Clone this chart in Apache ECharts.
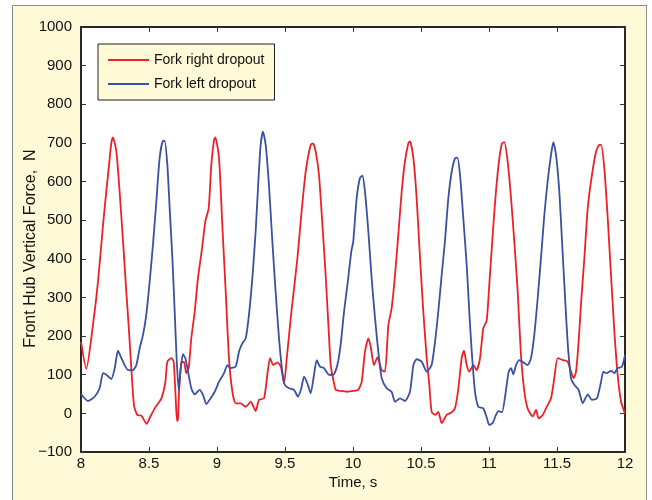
<!DOCTYPE html>
<html>
<head>
<meta charset="utf-8">
<script src="https://cdn.jsdelivr.net/npm/echarts@6/dist/echarts.min.js"></script>
<style>
  html, body { margin: 0; padding: 0; background: #fff; overflow: hidden; }
  #frame { position: absolute; left: 12px; top: 5px; width: 633px; height: 510px;
           background: #fef9d7; border: 1px solid #8c8c8c; }
  #chart { position: absolute; left: 0; top: 0; width: 652px; height: 500px; }
</style>
</head>
<body>
<div id="frame"></div>
<div id="chart"></div>
<script>
// 右侧叉端（红线）
const rightTime = [
  8.000, 8.039, 8.088, 8.125, 8.162, 8.186, 8.211, 8.223, 8.235, 8.260,
  8.284, 8.309, 8.333, 8.350, 8.370, 8.390, 8.414, 8.444, 8.483, 8.505,
  8.542, 8.591, 8.620, 8.635, 8.664, 8.681, 8.694, 8.706, 8.713, 8.721,
  8.738, 8.757, 8.774, 8.792, 8.811, 8.836, 8.860, 8.890, 8.914, 8.939,
  8.958, 8.978, 8.988, 9.015, 9.039, 9.064, 9.088, 9.113, 9.137, 9.174,
  9.211, 9.248, 9.284, 9.309, 9.346, 9.370, 9.390, 9.414, 9.444, 9.470,
  9.493, 9.515, 9.547, 9.591, 9.620, 9.652, 9.689, 9.706, 9.726, 9.750,
  9.775, 9.799, 9.819, 9.836, 9.853, 9.873, 9.909, 9.958, 10.002, 10.039,
  10.064, 10.088, 10.113, 10.130, 10.154, 10.180, 10.211, 10.235, 10.260, 10.284,
  10.309, 10.333, 10.358, 10.382, 10.407, 10.419, 10.444, 10.468, 10.493, 10.517,
  10.542, 10.561, 10.578, 10.603, 10.627, 10.652, 10.689, 10.726, 10.750, 10.775,
  10.799, 10.816, 10.836, 10.855, 10.885, 10.909, 10.934, 10.958, 10.983, 11.002,
  11.027, 11.051, 11.076, 11.096, 11.113, 11.137, 11.162, 11.186, 11.211, 11.235,
  11.260, 11.284, 11.321, 11.346, 11.365, 11.395, 11.419, 11.456, 11.480, 11.505,
  11.542, 11.578, 11.603, 11.623, 11.640, 11.659, 11.676, 11.701, 11.726, 11.757,
  11.787, 11.811, 11.824, 11.848, 11.873, 11.897, 11.922, 11.946, 11.971, 12.000
];
const rightForce = [
  185, 115, 229, 341, 488, 574, 660, 700, 714, 678,
  574, 445, 315, 229, 117, 20, -4, -6, -27, -12,
  13, 39, 80, 134, 143, 134, 56, -20, -15, 56,
  130, 134, 104, 118, 194, 263, 350, 427, 496, 531,
  643, 708, 714, 660, 488, 315, 143, 56, 26, 26,
  17, 30, 6, 35, 39, 100, 143, 125, 132, 120,
  78, 150, 263, 401, 515, 625, 695, 699, 677, 617,
  488, 358, 229, 125, 91, 61, 58, 56, 58, 61,
  82, 160, 194, 173, 125, 145, 112, 108, 229, 272,
  358, 462, 574, 652, 699, 704, 660, 557, 401, 263,
  143, 74, 4, -4, 4, -25, -4, 3, 13, 65,
  143, 162, 125, 108, 125, 112, 143, 220, 240, 332,
  462, 574, 660, 699, 702, 652, 557, 445, 315, 151,
  56, 13, -8, 9, -13, -4, 13, 39, 91, 143,
  138, 134, 108, 91, 108, 185, 280, 401, 531, 617,
  677, 695, 695, 634, 505, 358, 211, 100, 30, 0
];

// 左侧叉端（蓝线）
const leftTime = [
  8.000, 8.051, 8.100, 8.137, 8.162, 8.186, 8.223, 8.248, 8.272, 8.297,
  8.346, 8.382, 8.407, 8.431, 8.456, 8.480, 8.505, 8.529, 8.554, 8.578,
  8.603, 8.615, 8.635, 8.652, 8.672, 8.689, 8.703, 8.718, 8.733, 8.750,
  8.767, 8.787, 8.811, 8.836, 8.872, 8.897, 8.921, 8.946, 8.983, 9.015,
  9.052, 9.076, 9.100, 9.137, 9.162, 9.186, 9.211, 9.235, 9.260, 9.284,
  9.304, 9.321, 9.338, 9.358, 9.382, 9.407, 9.431, 9.456, 9.480, 9.498,
  9.529, 9.566, 9.596, 9.620, 9.640, 9.664, 9.689, 9.713, 9.733, 9.757,
  9.787, 9.824, 9.855, 9.885, 9.909, 9.934, 9.958, 9.988, 10.002, 10.027,
  10.051, 10.069, 10.088, 10.113, 10.137, 10.162, 10.186, 10.211, 10.248, 10.284,
  10.309, 10.346, 10.382, 10.419, 10.444, 10.468, 10.505, 10.542, 10.578, 10.603,
  10.627, 10.652, 10.676, 10.701, 10.726, 10.750, 10.767, 10.787, 10.811, 10.836,
  10.855, 10.873, 10.897, 10.922, 10.958, 10.983, 11.002, 11.027, 11.051, 11.071,
  11.096, 11.120, 11.145, 11.162, 11.179, 11.199, 11.223, 11.252, 11.284, 11.309,
  11.333, 11.358, 11.382, 11.407, 11.431, 11.456, 11.473, 11.493, 11.517, 11.537,
  11.557, 11.578, 11.603, 11.627, 11.659, 11.689, 11.726, 11.757, 11.794, 11.824,
  11.841, 11.865, 11.897, 11.922, 11.946, 11.978, 12.000
];
const leftForce = [
  50, 32, 43, 65, 104, 100, 89, 117, 162, 143,
  112, 112, 125, 168, 203, 255, 341, 436, 548, 660,
  705, 705, 643, 531, 401, 263, 143, 61, 117, 153,
  143, 108, 65, 49, 61, 48, 24, 35, 56, 82,
  104, 125, 117, 121, 160, 181, 194, 255, 350, 470,
  600, 695, 729, 695, 591, 445, 315, 194, 108, 74,
  65, 61, 43, 65, 95, 78, 52, 99, 138, 121,
  117, 100, 100, 125, 177, 263, 330, 420, 445, 557,
  609, 615, 574, 470, 350, 246, 160, 91, 65, 56,
  30, 39, 32, 56, 125, 140, 134, 108, 125, 185,
  263, 358, 445, 557, 626, 660, 662, 617, 505, 384,
  263, 160, 56, 17, 13, -10, -30, -25, -4, 6,
  3, 48, 108, 117, 101, 125, 138, 132, 125, 143,
  203, 298, 401, 514, 600, 669, 702, 669, 574, 445,
  315, 185, 91, 74, 61, 26, 49, 35, 39, 82,
  108, 104, 110, 104, 117, 121, 151
];

const seriesNames = ['Fork right dropout', 'Fork left dropout'];
const xName = 'Time, s';
const yName = 'Front Hub Vertical Force,  N';

const FONT = '"Liberation Sans", Arial, sans-serif';
const AXIS_COLOR = '#1a1a1a';

const pairs = (xs, ys) => xs.map((x, i) => [x, ys[i]]);

const chart = echarts.init(document.getElementById('chart'), null, { renderer: 'canvas' });

const baseX = {
  type: 'value', min: 8, max: 12, interval: 0.5,
  splitLine: { show: false },
  axisLine: { show: true, onZero: false, lineStyle: { color: AXIS_COLOR, width: 1.5 } },
  axisTick: { show: true, inside: true, length: 5, lineStyle: { color: '#333', width: 1 } }
};
const baseY = {
  type: 'value', min: -100, max: 1000, interval: 100,
  splitLine: { show: false },
  axisLine: { show: true, onZero: false, lineStyle: { color: AXIS_COLOR, width: 1.5 } },
  axisTick: { show: true, inside: true, length: 5, lineStyle: { color: '#333', width: 1 } }
};

chart.setOption({
  animation: false,
  textStyle: { fontFamily: FONT },
  grid: {
    left: 81, top: 27, right: 27, bottom: 48,
    show: true, backgroundColor: '#fff', borderColor: AXIS_COLOR, borderWidth: 1.5
  },
  legend: {
    left: 98, top: 44,
    orient: 'vertical',
    backgroundColor: '#fef9d7',
    borderColor: '#222', borderWidth: 1,
    padding: [9, 10, 9, 9],
    itemWidth: 41, itemHeight: 14, itemGap: 10,
    itemStyle: { opacity: 0 },
    textStyle: { fontFamily: FONT, fontSize: 14, color: '#111' },
    data: seriesNames
  },
  xAxis: [
    Object.assign({}, baseX, {
      position: 'bottom',
      name: xName, nameLocation: 'middle', nameGap: 23, nameMoveOverlap: false,
      nameTextStyle: { fontFamily: FONT, fontSize: 15, color: '#111' },
      axisLabel: { margin: 4, fontFamily: FONT, fontSize: 15, color: '#111' }
    }),
    Object.assign({}, baseX, { position: 'top', axisLabel: { show: false } })
  ],
  yAxis: [
    Object.assign({}, baseY, {
      position: 'left',
      name: yName, nameLocation: 'middle', nameGap: 42, nameRotate: 90, nameMoveOverlap: false,
      nameTextStyle: { fontFamily: FONT, fontSize: 16, color: '#111', padding: [0, 18, 0, 0] },
      axisLabel: {
        margin: 9, fontFamily: FONT, fontSize: 15, color: '#111',
        formatter: v => String(v).replace('-', '\u2212')
      }
    }),
    Object.assign({}, baseY, { position: 'right', axisLabel: { show: false } })
  ],
  series: [
    {
      name: seriesNames[0], type: 'line', symbol: 'none', smooth: 0.2,
      data: pairs(rightTime, rightForce),
      lineStyle: { color: '#ec2027', width: 1.8 }, itemStyle: { color: '#ec2027' }
    },
    {
      name: seriesNames[1], type: 'line', symbol: 'none', smooth: 0.2,
      data: pairs(leftTime, leftForce),
      lineStyle: { color: '#3a50a2', width: 1.8 }, itemStyle: { color: '#3a50a2' }
    }
  ]
});
</script>
</body>
</html>
